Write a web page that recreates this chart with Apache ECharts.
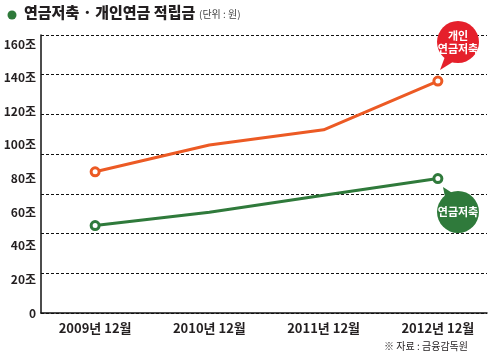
<!DOCTYPE html>
<html><head><meta charset="utf-8">
<script src="https://cdn.jsdelivr.net/npm/echarts@6/dist/echarts.min.js"></script>
<style>html,body{margin:0;padding:0;background:#fff}#c{width:498px;height:362px}</style>
</head><body><div id="c"></div>
<script>
const categories = ['2009년 12월', '2010년 12월', '2011년 12월', '2012년 12월'];
const personalPension = [84, 100, 109, 138];
const pensionSavings = [52, 60, 70, 80];
const yTickValues = [0, 20, 40, 60, 80, 100, 120, 140, 160];
const yUnit = '조';

const FONT = "'Liberation Sans Narrow','Noto Sans CJK KR',sans-serif";
const KFONT = "'Noto Sans CJK KR',sans-serif";
const ORANGE = '#ec5a24';
const GREEN = '#2f7a3b';
const YMAX = 165.4;

function endMarkers(arr) {
  return arr.map((v, i) => ({value: v, symbol: (i === 0 || i === arr.length - 1) ? 'circle' : 'none'}));
}

const chart = echarts.init(document.getElementById('c'));
chart.setOption({
  animation: false,
  grid: [
    {left: 38, right: 3, top: 35, bottom: 49},
    {left: 41, right: 11, top: 35, bottom: 49}
  ],
  xAxis: [
    {type: 'category', gridIndex: 0, data: categories, boundaryGap: true,
     axisLine: {show: false}, axisTick: {show: false},
     axisLabel: {color: '#231f20', fontFamily: FONT, fontWeight: 'bold', fontSize: 13, margin: 9}},
    {type: 'value', gridIndex: 1, min: 0, max: 1, interval: 1,
     axisLine: {show: true, lineStyle: {color: '#111', width: 1.5}},
     axisTick: {show: false}, axisLabel: {show: false}, splitLine: {show: false}}
  ],
  yAxis: [
    {type: 'value', gridIndex: 0, min: 0, max: YMAX, show: false, splitLine: {show: false}},
    {type: 'value', gridIndex: 1, position: 'left', min: 0, max: 7, interval: 1,
     axisLine: {show: true, lineStyle: {color: '#111', width: 1.5}},
     axisTick: {show: false}, axisLabel: {show: false},
     splitLine: {show: true, lineStyle: {color: '#111', width: 1, type: [3, 2]}}},
    {type: 'value', gridIndex: 1, position: 'left', min: 0, max: YMAX, interval: 20,
     axisLine: {show: false}, axisTick: {show: false}, splitLine: {show: false},
     axisLabel: {margin: 5, color: '#231f20', fontFamily: FONT, fontWeight: 'bold', fontSize: 12,
       formatter: v => yTickValues.indexOf(v) >= 0 ? (v === 0 ? '0' : v + yUnit) : ''}}
  ],
  series: [
    {type: 'line', name: '개인연금저축', xAxisIndex: 0, yAxisIndex: 0, data: endMarkers(personalPension),
     lineStyle: {color: ORANGE, width: 3}, itemStyle: {color: '#fff', borderColor: ORANGE, borderWidth: 3},
     symbol: 'circle', symbolSize: 8, z: 5},
    {type: 'line', name: '연금저축', xAxisIndex: 0, yAxisIndex: 0, data: endMarkers(pensionSavings),
     lineStyle: {color: GREEN, width: 3}, itemStyle: {color: '#fff', borderColor: GREEN, borderWidth: 3},
     symbol: 'circle', symbolSize: 8, z: 5}
  ],
  graphic: [
    {type: 'circle', shape: {cx: 12, cy: 15, r: 4.5}, style: {fill: GREEN}},
    {type: 'text', left: 24, top: 5, style: {text: '연금저축 · 개인연금 적립금', fontFamily: KFONT, fontWeight: 900, fontSize: 15, fill: '#231f20'}},
    {type: 'text', left: 199, top: 9, style: {text: '(단위 : 원)', fontFamily: KFONT, fontSize: 10, fill: '#444'}},
    {type: 'text', right: 30, top: 341, style: {text: '※ 자료 : 금융감독원', fontFamily: KFONT, fontSize: 10, fill: '#231f20'}},
    // red callout
    {type: 'polygon', shape: {points: [[446, 54], [456, 60], [440, 70]]}, style: {fill: '#e5202b'}, z: 10},
    {type: 'circle', shape: {cx: 458, cy: 42, r: 21}, style: {fill: '#e5202b'}, z: 10},
    {type: 'text', x: 458, y: 42, z: 11, style: {text: '개인\n연금저축', align: 'center', verticalAlign: 'middle', fontFamily: KFONT, fontWeight: 'bold', fontSize: 11, lineHeight: 13, fill: '#fff'}},
    // green callout
    {type: 'polygon', shape: {points: [[443, 187], [457, 196], [446, 202]]}, style: {fill: GREEN}, z: 10},
    {type: 'circle', shape: {cx: 458, cy: 212, r: 21}, style: {fill: GREEN}, z: 10},
    {type: 'text', x: 458, y: 212, z: 11, style: {text: '연금저축', align: 'center', verticalAlign: 'middle', fontFamily: KFONT, fontWeight: 'bold', fontSize: 11, fill: '#fff'}}
  ]
});
</script></body></html>
